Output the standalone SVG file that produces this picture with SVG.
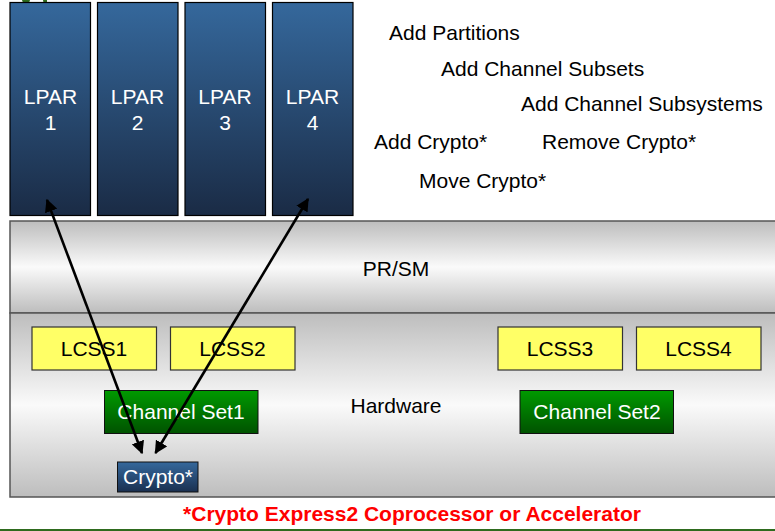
<svg xmlns="http://www.w3.org/2000/svg" width="775" height="531" viewBox="0 0 775 531">
<defs>
<linearGradient id="gLpar" x1="0" y1="0" x2="0" y2="1">
<stop offset="0" stop-color="#35689c"/>
<stop offset="1" stop-color="#1a2b45"/>
</linearGradient>
<linearGradient id="gBand" x1="0" y1="0" x2="0" y2="1">
<stop offset="0" stop-color="#bdbdbd"/>
<stop offset="0.5" stop-color="#fafafa"/>
<stop offset="1" stop-color="#bdbdbd"/>
</linearGradient>
<linearGradient id="gGreen" x1="0" y1="0" x2="0" y2="1">
<stop offset="0" stop-color="#009a00"/>
<stop offset="1" stop-color="#005200"/>
</linearGradient>
<linearGradient id="gCrypto" x1="0" y1="0" x2="0" y2="1">
<stop offset="0" stop-color="#35689c"/>
<stop offset="1" stop-color="#1a3050"/>
</linearGradient>
<marker id="ah" viewBox="0 0 10 10" refX="9" refY="5" markerWidth="5" markerHeight="5" orient="auto-start-reverse" markerUnits="strokeWidth">
<path d="M0,0 L10,5 L0,10 Z" fill="#000"/>
</marker>
</defs>
<style>
text{font-family:"Liberation Sans",Arial,sans-serif;font-size:21px}
.lpar{fill:url(#gLpar);stroke:#000;stroke-width:1.2}
.wt{fill:#fff;text-anchor:middle}
.bt{fill:#000;text-anchor:middle}
.band{fill:url(#gBand);stroke:#555;stroke-width:1.5}
.lcss{fill:#ffff66;stroke:#333;stroke-width:1.2}
.chs{fill:url(#gGreen);stroke:#111;stroke-width:1}
.menu{fill:#000}
.conn{stroke:#000;stroke-width:2.6;fill:none;marker-start:url(#ah);marker-end:url(#ah)}
</style>
<rect width="775" height="531" fill="#fff"/>
<path d="M22,0 L30,0 L29,3 L23,3 Z" fill="#2e6b1e"/>
<path d="M43,0 L47,0 L47,5 L44,5 Z" fill="#2e6b1e"/>
<g id="lpar1"><rect class="lpar" x="10" y="2.5" width="80.5" height="213"/><text class="wt" x="50.5" y="104">LPAR</text><text class="wt" x="50.5" y="130">1</text></g>
<g id="lpar2"><rect class="lpar" x="97.5" y="2.5" width="80.5" height="213"/><text class="wt" x="137.5" y="104">LPAR</text><text class="wt" x="137.5" y="130">2</text></g>
<g id="lpar3"><rect class="lpar" x="185" y="2.5" width="80.5" height="213"/><text class="wt" x="225" y="104">LPAR</text><text class="wt" x="225" y="130">3</text></g>
<g id="lpar4"><rect class="lpar" x="272.5" y="2.5" width="80.5" height="213"/><text class="wt" x="312.5" y="104">LPAR</text><text class="wt" x="312.5" y="130">4</text></g>
<g id="menu">
<text class="menu" x="389" y="40">Add Partitions</text>
<text class="menu" x="441" y="76">Add Channel Subsets</text>
<text class="menu" x="521" y="111">Add Channel Subsystems</text>
<text class="menu" x="374" y="149">Add Crypto*</text>
<text class="menu" x="542" y="149">Remove Crypto*</text>
<text class="menu" x="419" y="188">Move Crypto*</text>
</g>
<g id="prsm"><rect class="band" x="10" y="221" width="770" height="92"/><text class="bt" x="396" y="276" font-size="20">PR/SM</text></g>
<g id="hardware"><rect class="band" x="10" y="313" width="770" height="184"/><text class="bt" x="396" y="413">Hardware</text></g>
<g id="lcss1"><rect class="lcss" x="32" y="327" width="124.5" height="43"/><text class="bt" x="94" y="356">LCSS1</text></g>
<g id="lcss2"><rect class="lcss" x="170.5" y="327" width="124.5" height="43"/><text class="bt" x="232.5" y="356">LCSS2</text></g>
<g id="lcss3"><rect class="lcss" x="498" y="327" width="124.5" height="43"/><text class="bt" x="560" y="356">LCSS3</text></g>
<g id="lcss4"><rect class="lcss" x="636.5" y="327" width="124.5" height="43"/><text class="bt" x="698.5" y="356">LCSS4</text></g>
<g id="chset1"><rect class="chs" x="104.5" y="390.5" width="153.5" height="43"/><text class="wt" x="181" y="419">Channel Set1</text></g>
<g id="chset2"><rect class="chs" x="520" y="390.5" width="153.5" height="43"/><text class="wt" x="597" y="419">Channel Set2</text></g>
<g id="crypto"><rect x="117.5" y="462" width="80.5" height="30" fill="url(#gCrypto)" stroke="#111" stroke-width="1"/><text class="wt" x="158" y="484">Crypto*</text></g>
<g id="connectors">
<line class="conn" x1="47" y1="200" x2="142" y2="453"/>
<line class="conn" x1="308" y1="199" x2="155.5" y2="453"/>
</g>
<text x="412" y="521" fill="#ff0000" font-weight="bold" text-anchor="middle">*Crypto Express2 Coprocessor or Accelerator</text>
<line x1="0" y1="530" x2="775" y2="530" stroke="#2e6b1e" stroke-width="2"/>
</svg>
